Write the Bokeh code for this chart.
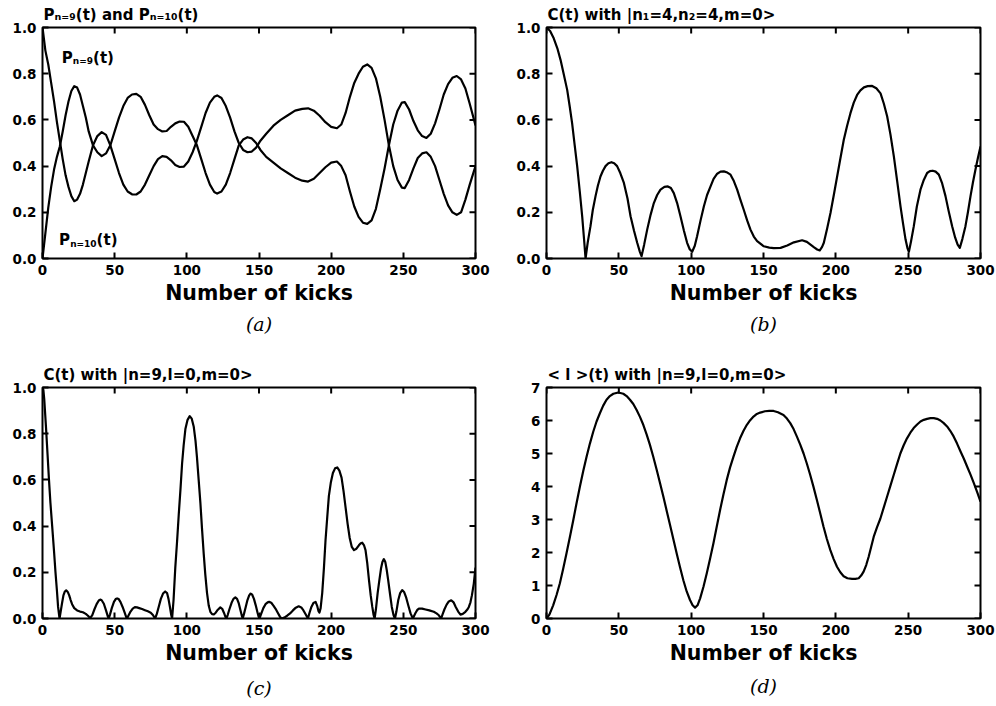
from bokeh.plotting import figure
from bokeh.models import Label, Title, FixedTicker, NumeralTickFormatter, Range1d
from bokeh.layouts import column, row
from bokeh.embed import file_html
from bokeh.resources import INLINE

# ---------------- data ----------------
x_ticks = [0, 50, 100, 150, 200, 250, 300]
y_ticks_prob = [0.0, 0.2, 0.4, 0.6, 0.8, 1.0]
y_ticks_l = [0, 1, 2, 3, 4, 5, 6, 7]

# (a) P_{n=9}(t) and P_{n=10}(t)
kicks_a = [0, 2, 4, 6, 8, 10, 12, 14, 16, 18, 20, 22, 24, 26, 28, 30, 32, 35, 38, 41,
           44, 47, 50, 53, 56, 59, 62, 65, 68, 71, 74, 77, 80, 83, 86, 89, 92, 95, 98, 101,
           104, 107, 110, 113, 116, 119, 121, 124, 127, 130, 133, 136, 139, 142, 145, 148,
           151, 155, 160, 165, 170, 175, 180, 184, 188, 192, 196, 200, 204, 207, 210, 213,
           216, 219, 222, 225, 228, 231, 234, 237, 240, 243, 246, 249, 251, 254, 257, 260,
           263, 266, 269, 272, 275, 278, 281, 284, 287, 290, 293, 296, 300]
p_n9 = [1.0, 0.90, 0.84, 0.76, 0.68, 0.59, 0.51, 0.43, 0.36, 0.31, 0.27, 0.248, 0.255, 0.28,
        0.32, 0.37, 0.42, 0.49, 0.53, 0.547, 0.535, 0.49, 0.43, 0.37, 0.32, 0.29, 0.278, 0.277,
        0.29, 0.32, 0.36, 0.40, 0.43, 0.443, 0.44, 0.425, 0.405, 0.396, 0.398, 0.42, 0.46, 0.51,
        0.57, 0.63, 0.675, 0.70, 0.706, 0.695, 0.66, 0.61, 0.55, 0.50, 0.47, 0.46, 0.463, 0.48,
        0.51, 0.54, 0.575, 0.60, 0.62, 0.64, 0.648, 0.65, 0.64, 0.618, 0.59, 0.57, 0.564, 0.58,
        0.63, 0.70, 0.76, 0.80, 0.83, 0.84, 0.825, 0.78, 0.70, 0.60, 0.49, 0.40, 0.34, 0.307,
        0.305, 0.34, 0.39, 0.435, 0.455, 0.46, 0.44, 0.40, 0.34, 0.28, 0.23, 0.20, 0.189, 0.20,
        0.255, 0.32, 0.40]
p_n10 = [0.0, 0.11, 0.22, 0.31, 0.385, 0.44, 0.485, 0.55, 0.62, 0.68, 0.725, 0.746, 0.74, 0.71,
         0.66, 0.61, 0.55, 0.49, 0.46, 0.443, 0.455, 0.49, 0.55, 0.61, 0.66, 0.695, 0.71, 0.713,
         0.70, 0.665, 0.62, 0.58, 0.56, 0.55, 0.552, 0.57, 0.585, 0.593, 0.592, 0.57, 0.53, 0.49,
         0.43, 0.37, 0.32, 0.288, 0.281, 0.29, 0.32, 0.37, 0.43, 0.49, 0.515, 0.525, 0.52, 0.50,
         0.47, 0.44, 0.415, 0.39, 0.37, 0.35, 0.337, 0.333, 0.345, 0.37, 0.395, 0.415, 0.42, 0.40,
         0.36, 0.29, 0.225, 0.18, 0.155, 0.15, 0.165, 0.215, 0.30, 0.39, 0.49, 0.58, 0.64, 0.675,
         0.677, 0.645, 0.595, 0.555, 0.53, 0.522, 0.54, 0.585, 0.645, 0.71, 0.755, 0.782, 0.79,
         0.775, 0.736, 0.67, 0.576]

# (b) C(t) with |n1=4,n2=4,m=0>
kicks_b = [0, 2.5, 5, 7.5, 9.7, 12, 14.3, 16, 17.7, 19.5, 21.2, 23, 24.7, 26, 27, 28.5, 30.4,
           32, 33.9, 35.5, 37.3, 39, 40.8, 42.8, 44.9, 46.8, 48.8, 51, 53.5, 56, 58.1, 60.5,
           62.7, 64.5, 65.7, 67.5, 69.6, 72, 74.2, 76.5, 78.8, 81.5, 83.9, 86, 88, 90.3, 92.6,
           95, 97.2, 99, 100.7, 102.5, 104.1, 106.5, 108.8, 111, 113.4, 115.5, 118, 120.3,
           122.6, 125, 127.2, 129.5, 131.8, 134, 136.4, 138.7, 141, 143.3, 145.6, 150.2, 154,
           157.1, 161.8, 166.4, 171, 176.7, 180, 182.5, 185, 187.1, 188.9, 190.5, 191.7, 194,
           196.3, 198.6, 200.9, 203.2, 205.5, 207.8, 210.1, 212.4, 214.7, 217, 219.4, 222,
           225.1, 228, 230.9, 233.2, 235.5, 237.8, 240.1, 242.4, 244.7, 246.5, 248.2, 249.5,
           250.5, 252, 253.9, 256, 258.5, 260.8, 263.1, 265, 267, 269, 271.2, 273.5, 275.8,
           278, 280.4, 282.5, 284.2, 285.7, 287.5, 289.6, 291.3, 293.1, 294.8, 296.5, 298.2, 300]
c_b = [1.0, 0.985, 0.953, 0.91, 0.86, 0.795, 0.73, 0.66, 0.586, 0.49, 0.40, 0.29, 0.18, 0.08,
       0.0, 0.07, 0.14, 0.21, 0.27, 0.315, 0.355, 0.38, 0.40, 0.412, 0.417, 0.412, 0.40, 0.37,
       0.327, 0.26, 0.183, 0.12, 0.068, 0.03, 0.01, 0.06, 0.125, 0.19, 0.24, 0.275, 0.298, 0.31,
       0.312, 0.305, 0.283, 0.24, 0.183, 0.12, 0.068, 0.04, 0.029, 0.055, 0.096, 0.165, 0.226,
       0.275, 0.312, 0.345, 0.367, 0.376, 0.377, 0.372, 0.363, 0.335, 0.298, 0.255, 0.21, 0.165,
       0.125, 0.095, 0.075, 0.053, 0.047, 0.045, 0.046, 0.056, 0.07, 0.079, 0.072, 0.06, 0.048,
       0.039, 0.035, 0.05, 0.068, 0.13, 0.197, 0.275, 0.355, 0.435, 0.514, 0.575, 0.629, 0.675,
       0.708, 0.728, 0.741, 0.746, 0.747, 0.737, 0.715, 0.67, 0.615, 0.535, 0.442, 0.335, 0.226,
       0.15, 0.082, 0.045, 0.029, 0.075, 0.14, 0.225, 0.298, 0.34, 0.37, 0.378, 0.38, 0.376,
       0.363, 0.325, 0.27, 0.205, 0.14, 0.09, 0.06, 0.046, 0.085, 0.14, 0.2, 0.27, 0.33, 0.384,
       0.435, 0.485]

# (c) C(t) with |n=9,l=0,m=0>
kicks_c = [0, 0.6, 1.2, 2.5, 3.5, 4.4, 5.5, 6.7, 8, 9, 10, 10.8, 11.8,
           12.6, 13.5, 14.5, 15.5, 16.4, 17.5, 18.5, 19.5, 20.5, 22, 24, 26, 28, 30, 31.5, 33,
           34.5, 36, 37.5, 39, 40, 41, 42.5, 44, 45.2, 45.9,
           46.8, 48, 49.5, 50.7, 51.7, 52.8, 54, 55.5, 57, 58, 58.6,
           59.5, 61, 62.5, 64, 65.5, 67, 69, 71, 73, 75, 76.5, 78,
           79.2, 80.5, 82, 83.5, 85, 86.3, 87.3, 88.3, 89.2, 89.8,
           90.8, 92, 93.2, 94.4, 95.6, 96.7, 97.8, 99, 100.5, 102, 103.4, 104.8, 106, 107, 108.2,
           109.4, 110.5, 111.7, 112.8, 114, 115.2, 116.3, 117.5, 118.7, 120, 121.5, 123.2, 124.5,
           125.7, 126.7, 127.4,
           128.3, 129.5, 131, 132.3, 133.6, 134.8, 136, 137.2, 138.2, 138.7,
           139.6, 140.8, 142, 143.2, 144.2, 145.3, 146.5, 147.7, 149, 149.8, 150.3,
           151.5, 153, 154.5, 156, 157, 158.5, 160, 161.5, 163, 164.5, 165.7,
           167.5, 169.5, 171.5, 173.5, 175.5, 177.5, 179.3, 180.8, 182.3, 183.9,
           185, 186.3, 187.7, 189.2, 190.3, 191.2, 191.9,
           192.7, 193.8, 195, 196.1, 197.3, 198.4, 199.8, 201.2, 202.7, 204.2, 205.7, 207.2,
           208.6, 210, 211.4, 212.8, 214.3, 215.8, 217.5, 219.2, 220.5, 221.5, 222.7, 223.8,
           225, 226.2, 227.4, 228.5, 229.4, 230.1,
           231, 232.2, 233.4, 234.5, 235.5, 236.5, 237.5, 238.5, 239.5, 240.8, 242, 243.2, 244.2,
           245.2, 246.5, 247.8, 249.2, 250.5, 252, 253.5, 255, 256.6,
           257.5, 258.5, 259.7, 260.8, 263, 265.4, 268, 271.1, 273, 274.6, 275.5, 276.2,
           277.3, 278.5, 280, 281.5, 283.2, 284.8, 286.3, 288, 289.6, 291.2, 293, 294.5, 295.4,
           296.5, 297.5, 298.8, 300]
c_c = [1.0, 0.99, 0.95, 0.82, 0.71, 0.61, 0.50, 0.40, 0.29, 0.20, 0.12, 0.05, 0.0,
       0.03, 0.065, 0.10, 0.117, 0.122, 0.115, 0.10, 0.08, 0.062, 0.045, 0.035, 0.03, 0.027,
       0.02, 0.012, 0.002,
       0.015, 0.04, 0.062, 0.078, 0.082, 0.079, 0.064, 0.035, 0.01, 0.0,
       0.018, 0.045, 0.072, 0.084, 0.087, 0.084, 0.072, 0.05, 0.024, 0.006, 0.0,
       0.012, 0.03, 0.043, 0.049, 0.048, 0.045, 0.041, 0.036, 0.031, 0.025, 0.015, 0.0,
       0.02, 0.05, 0.085, 0.108, 0.117, 0.11, 0.085, 0.05, 0.015, 0.0,
       0.08, 0.22, 0.33, 0.45, 0.56, 0.67, 0.75, 0.82, 0.86, 0.876, 0.865, 0.83, 0.77, 0.70, 0.60,
       0.50, 0.39, 0.28, 0.19, 0.11, 0.055, 0.029, 0.019, 0.018, 0.025, 0.038, 0.048, 0.042,
       0.025, 0.008, 0.0,
       0.015, 0.04, 0.068, 0.085, 0.091, 0.085, 0.065, 0.035, 0.01, 0.0,
       0.02, 0.05, 0.08, 0.10, 0.108, 0.103, 0.085, 0.058, 0.025, 0.007, 0.0,
       0.02, 0.045, 0.062, 0.07, 0.072, 0.068, 0.056, 0.042, 0.025, 0.008, 0.0,
       0.004, 0.012, 0.022, 0.035, 0.047, 0.053, 0.048, 0.035, 0.018, 0.0,
       0.025, 0.05, 0.067, 0.072, 0.055, 0.032, 0.026,
       0.045, 0.11, 0.22, 0.34, 0.44, 0.53, 0.59, 0.63, 0.65, 0.654, 0.64, 0.61,
       0.55, 0.48, 0.41, 0.35, 0.31, 0.296, 0.302, 0.317, 0.326, 0.328, 0.318, 0.296,
       0.24, 0.166, 0.10, 0.05, 0.015, 0.0,
       0.04, 0.11, 0.166, 0.215, 0.245, 0.257, 0.245, 0.21, 0.166, 0.105, 0.05, 0.015, 0.0,
       0.03, 0.08, 0.11, 0.123, 0.115, 0.09, 0.055, 0.022, 0.0,
       0.012, 0.025, 0.037, 0.043, 0.043, 0.039, 0.035, 0.029, 0.022, 0.014, 0.006, 0.0,
       0.02, 0.04, 0.06, 0.074, 0.079, 0.07, 0.05, 0.03, 0.017, 0.02, 0.029, 0.04, 0.05,
       0.07, 0.10, 0.15, 0.22]

# (d) <l>(t) with |n=9,l=0,m=0>
kicks_d = [0, 2, 4.6, 7, 9.2, 11.5, 13.8, 16.2, 18.5, 20.8, 23.1, 25.4, 27.7, 30, 32.3, 34.6,
           36.9, 39.2, 41.5, 43.8, 46.2, 49.6, 53.1, 55.4, 57.7, 60, 62.3, 64.6, 66.9, 69.2, 71.5,
           73.8, 76.2, 78.5, 80.8, 83.1, 85.4, 87.7, 90, 92.3, 94.6, 96.9, 99.2, 101, 102.7,
           104.4, 106.2, 108.5, 110.8, 113.1, 115.4, 117.7, 120, 122.3, 124.6, 126.9, 129.2,
           131.5, 133.8, 136.2, 138.5, 140.8, 143.1, 145.4, 147.7, 151, 154, 157, 160, 163.8,
           166.2, 168.5, 170.8, 173.1, 175.4, 177.7, 180, 182.3, 184.6, 186.9, 189.2, 191.5,
           193.8, 196.2, 198.5, 200.8, 203.1, 205.4, 208, 211.2, 213.5, 215.8, 217.5, 219.2,
           221, 222.7, 224.5, 226.2, 228.5, 230.8, 233.1, 235.4, 237.7, 240, 242.3, 244.6,
           246.9, 249.2, 251.5, 253.8, 256.2, 258.5, 260.8, 263.1, 265.4, 267.7, 270, 272.3,
           274.6, 276.9, 279.2, 281.5, 283.8, 286.2, 288.5, 290.8, 293.1, 295.4, 297.7, 300]
l_d = [0.0, 0.12, 0.40, 0.72, 1.06, 1.5, 1.97, 2.48, 2.98, 3.5, 4.0, 4.47, 4.9, 5.3, 5.66,
       5.97, 6.22, 6.45, 6.63, 6.74, 6.81, 6.85, 6.81, 6.74, 6.63, 6.5, 6.32, 6.11, 5.87, 5.58,
       5.26, 4.9, 4.5, 4.1, 3.69, 3.26, 2.83, 2.4, 1.97, 1.55, 1.16, 0.82, 0.56, 0.4, 0.33, 0.4,
       0.61, 0.96, 1.37, 1.82, 2.28, 2.79, 3.29, 3.76, 4.2, 4.58, 4.9, 5.2, 5.46, 5.69, 5.87,
       6.01, 6.12, 6.2, 6.24, 6.28, 6.29, 6.29, 6.25, 6.17, 6.06, 5.92, 5.74, 5.51, 5.27, 5.0,
       4.69, 4.35, 3.98, 3.59, 3.19, 2.78, 2.41, 2.07, 1.8, 1.57, 1.4, 1.28, 1.22, 1.2, 1.2,
       1.22, 1.3, 1.42, 1.62, 1.87, 2.18, 2.48, 2.77, 3.03, 3.36, 3.69, 4.02, 4.35, 4.68, 5.0,
       5.25, 5.46, 5.63, 5.77, 5.88, 5.97, 6.02, 6.05, 6.07, 6.07, 6.05, 6.0, 5.92, 5.82, 5.68,
       5.51, 5.3, 5.06, 4.84, 4.6, 4.36, 4.1, 3.83, 3.54]

x_label = "Number of kicks"
titles = ["P\u2099\u208c\u2089(t) and P\u2099\u208c\u2081\u2080(t)",
          "C(t) with |n\u2081=4,n\u2082=4,m=0>",
          "C(t) with |n=9,l=0,m=0>",
          "< l >(t) with |n=9,l=0,m=0>"]
captions = ["(a)", "(b)", "(c)", "(d)"]

# ---------------- styling helpers ----------------
FONT = "DejaVu Sans"
CHAR_W = {" ": 0.348, "(": 0.458, ")": 0.458, ",": 0.381, "=": 0.838, "<": 0.838, ">": 0.838,
          "C": 0.734, "P": 0.736, "a": 0.675, "d": 0.716, "h": 0.712, "i": 0.343, "l": 0.343,
          "m": 1.042, "n": 0.712, "t": 0.478, "w": 0.922, "|": 0.369}


def text_w(s, size):
    return sum(CHAR_W.get(c, 0.696) for c in s) * size


def rich(p, pieces, x, y, x_off, y_off):
    cur = x_off
    for txt, size, dy in pieces:
        p.add_layout(Label(x=x, y=y, x_units="data", y_units="data", x_offset=cur,
                           y_offset=y_off + dy, text=txt, text_font=FONT,
                           text_font_style="bold", text_font_size=f"{size}px",
                           text_baseline="alphabetic", text_align="left",
                           text_color="black"))
        cur += text_w(txt, size)


SUB = -3.5
TICK = 6
W, H = 498, 353
XMAX = 300


def make_fig(ymax, yticks, yfmt, bl, br, bt, bb, title, caption, cap_off, cap_standoff):
    p = figure(width=W, height=H, x_range=Range1d(0, XMAX), y_range=Range1d(0, ymax),
               output_backend="svg", toolbar_location=None,
               min_border_left=bl, min_border_right=br, min_border_top=bt, min_border_bottom=bb,
               background_fill_color="white", border_fill_color="white")
    p.title.text = title
    p.title.text_font = FONT
    p.title.text_font_style = "bold"
    p.title.text_font_size = "15px"
    p.title.text_color = "black"
    p.title.align = "left"
    p.title.offset = 1
    p.title.standoff = 7
    p.grid.visible = False
    p.outline_line_color = "black"
    p.outline_line_width = 2
    p.outline_line_alpha = 1.0
    p.xaxis.ticker = FixedTicker(ticks=x_ticks)
    p.yaxis.ticker = FixedTicker(ticks=yticks)
    p.yaxis.formatter = NumeralTickFormatter(format=yfmt)
    for ax in p.axis:
        ax.axis_line_color = None
        ax.major_tick_in = TICK
        ax.major_tick_out = 0
        ax.major_tick_line_width = 2
        ax.major_tick_line_color = "black"
        ax.minor_tick_line_color = None
        ax.major_label_text_font = FONT
        ax.major_label_text_font_style = "bold"
        ax.major_label_text_font_size = "13.5px"
        ax.major_label_text_color = "black"
        ax.major_label_standoff = 6
    xa = p.below[0]
    xa.axis_label = x_label
    xa.axis_label_text_font = FONT
    xa.axis_label_text_font_style = "bold"
    xa.axis_label_text_font_size = "20.5px"
    xa.axis_label_text_color = "black"
    xa.axis_label_standoff = 3
    # mirrored inward ticks on the top and right edges (tick length converted to data units)
    fw, fh = W - bl - br, H - bt - bb
    dy = TICK * ymax / fh
    dx = TICK * XMAX / fw
    p.segment(x0=x_ticks, y0=[ymax] * len(x_ticks), x1=x_ticks, y1=[ymax - dy] * len(x_ticks),
              line_color="black", line_width=2)
    p.segment(x0=[XMAX] * len(yticks), y0=yticks, x1=[XMAX - dx] * len(yticks), y1=yticks,
              line_color="black", line_width=2)
    p.add_layout(Title(text=caption, align="center", offset=cap_off, standoff=cap_standoff,
                       text_font="DejaVu Serif", text_font_style="italic",
                       text_font_size="19px", text_color="black"), "below")
    return p


LW = 2.2

pa = make_fig(1.0, y_ticks_prob, "0.0", 42, 23, 27, 95, titles[0], captions[0], 16, 7)
pa.line(kicks_a, p_n9, line_color="black", line_width=LW, line_join="round")
pa.line(kicks_a, p_n10, line_color="black", line_width=LW, line_join="round")
rich(pa, [("P", 15, 0), ("n=9", 9, SUB), ("(t)", 15, 0)], 0, 1.0, 19.3, -30)
rich(pa, [("P", 15, 0), ("n=10", 9, SUB), ("(t)", 15, 0)], 0, 0.0, 16.6, 18.3)

pb = make_fig(1.0, y_ticks_prob, "0.0", 48, 16, 27, 94, titles[1], captions[1], 7, 7)
pb.line(kicks_b, c_b, line_color="black", line_width=LW, line_join="round")

pc = make_fig(1.0, y_ticks_prob, "0.0", 42, 23, 34, 88, titles[2], captions[2], 15, 15)
pc.line(kicks_c, c_c, line_color="black", line_width=LW, line_join="round")

pd = make_fig(7, y_ticks_l, "0", 48, 16, 34, 88, titles[3], captions[3], 7, 10)
pd.line(kicks_d, l_d, line_color="black", line_width=LW, line_join="round")

layout = column(row(pa, pb), row(pc, pd))
open("out.html", "w").write(file_html(layout, INLINE, title="kicks"))
